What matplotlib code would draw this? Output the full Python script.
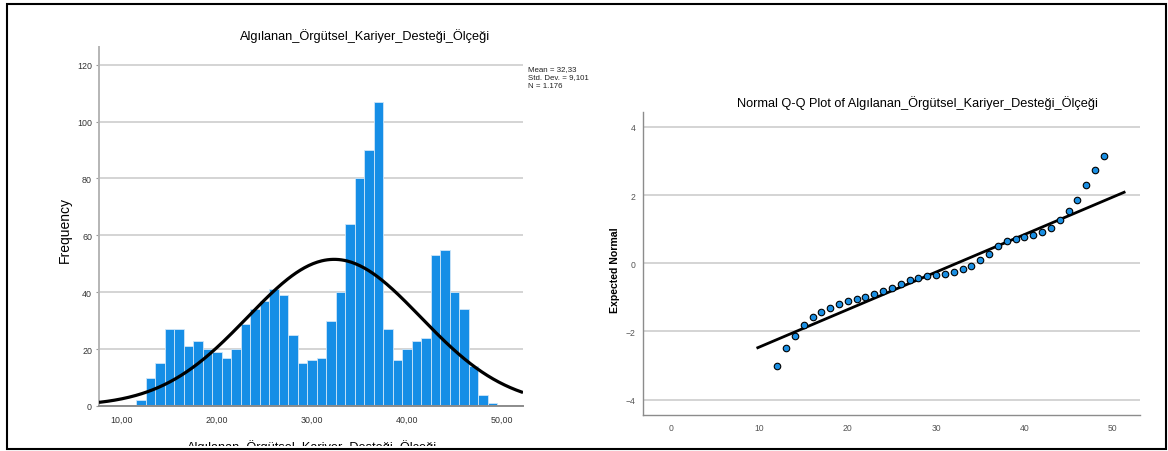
import numpy as np
import matplotlib
matplotlib.use("Agg")
import matplotlib.pyplot as plt
from matplotlib.patches import Rectangle
from matplotlib.transforms import Bbox, TransformedBbox

plt.rcParams['font.family'] = ['Liberation Sans', 'DejaVu Sans']

var_name = "Algılanan_Örgütsel_Kariyer_Desteği_Ölçeği"

# histogram: one bin per score value
scores = [12, 13, 14, 15, 16, 17, 18, 19, 20, 21, 22, 23, 24, 25, 26, 27, 28, 29, 30,
          31, 32, 33, 34, 35, 36, 37, 38, 39, 40, 41, 42, 43, 44, 45, 46, 47, 48, 49]
freqs = [2, 10, 15, 27, 27, 21, 23, 20, 19, 17, 20, 29, 34, 37, 41, 39, 25, 15, 16,
         17, 30, 40, 64, 80, 90, 107, 27, 16, 20, 23, 24, 53, 55, 40, 34, 14, 4, 1]
mean, std_dev, n_total = 32.33, 9.101, 1176

hist_yticks = [0, 20, 40, 60, 80, 100, 120]
hist_xticks = [10, 20, 30, 40, 50]
hist_xticklabels = ["10,00", "20,00", "30,00", "40,00", "50,00"]
stats_text = "Mean = 32,33\nStd. Dev. = 9,101\nN = 1.176"

# Q-Q plot: expected normal value for each observed score
expected_normal = [-3.02, -2.49, -2.12, -1.81, -1.57, -1.42, -1.30, -1.20, -1.12, -1.05,
                   -0.98, -0.90, -0.81, -0.71, -0.60, -0.50, -0.43, -0.38, -0.35, -0.31,
                   -0.26, -0.18, -0.07, 0.09, 0.27, 0.50, 0.66, 0.72, 0.77, 0.84,
                   0.91, 1.04, 1.27, 1.54, 1.87, 2.30, 2.75, 3.14]
qq_line_x = [9.8, 51.3]
qq_xticks = [0, 10, 20, 30, 40, 50]
qq_yticks = [-4, -2, 0, 2, 4]

bar_color = "#168ee6"
grid_color = "#c9c9c9"
W, H = 1168, 452


def fig_rect(left, top, right, bottom):
    return [left / W, 1 - bottom / H, (right - left) / W, (bottom - top) / H]


fig = plt.figure(figsize=(W / 100, H / 100), dpi=100)

# ---- histogram ----
ax1 = fig.add_axes(fig_rect(99, 48, 523, 407))
ax1.bar(scores, freqs, width=1.0, color=bar_color, edgecolor="#cfe6f8", linewidth=0.6, zorder=2)
xs = np.linspace(7.58, 52.21, 300)
curve = n_total / (std_dev * np.sqrt(2 * np.pi)) * np.exp(-0.5 * ((xs - mean) / std_dev) ** 2)
ax1.plot(xs, curve, color="black", lw=2.3, zorder=3, solid_capstyle="butt")
ax1.set_xlim(7.58, 52.21)
ax1.set_ylim(0, 126.2)
ax1.set_yticks(hist_yticks)
ax1.set_xticks(hist_xticks)
ax1.set_xticklabels(hist_xticklabels)
ax1.yaxis.grid(True, color=grid_color, lw=1.1, zorder=0)
ax1.set_axisbelow(True)
ax1.tick_params(axis="y", length=2, color="#999999", pad=3, labelsize=6.4, labelcolor="#333333")
ax1.tick_params(axis="x", length=0, pad=6, labelsize=6.4, labelcolor="#333333")
for side in ["top", "right"]:
    ax1.spines[side].set_visible(False)
ax1.spines["left"].set_color("#b5b5b5")
ax1.spines["left"].set_linewidth(1.4)
ax1.spines["bottom"].set_color("#8c8c8c")
ax1.spines["bottom"].set_linewidth(1.4)

fig.text(365 / W, 1 - 36 / H, var_name, ha="center", va="center", fontsize=9.2)
fig.text(528 / W, 1 - 66 / H, stats_text, ha="left", va="top", fontsize=5.7,
         linespacing=1.25, color="#222222")
fig.text(65 / W, 1 - 230 / H, "Frequency", rotation=90, ha="center", va="center", fontsize=10)

# x label of the histogram is cut off by the frame
xl = fig.text(312 / W, 1 - 440 / H, var_name, ha="center", va="top", fontsize=9.2)
xl.set_clip_box(TransformedBbox(Bbox.from_extents(0, 5.5 / H, 1, 1), fig.transFigure))
xl.set_clip_on(True)

# ---- Q-Q plot ----
ax2 = fig.add_axes(fig_rect(642.7, 113.3, 1140, 416))
ax2.scatter(scores, expected_normal, s=22, color="#1a8fe3", edgecolors="black",
            linewidths=0.8, zorder=3)
line_y = [(x - mean) / std_dev for x in qq_line_x]
ax2.plot(qq_line_x, line_y, color="black", lw=2.0, zorder=2)
ax2.set_xlim(-3.24, 53.1)
ax2.set_ylim(-4.45, 4.43)
ax2.set_xticks(qq_xticks)
ax2.set_yticks(qq_yticks)
ax2.yaxis.grid(True, color=grid_color, lw=1.1, zorder=0)
ax2.set_axisbelow(True)
ax2.tick_params(axis="both", length=0, labelsize=6.2, labelcolor="#555555")
ax2.tick_params(axis="x", pad=6)
ax2.tick_params(axis="y", pad=5)
for side in ["top", "right"]:
    ax2.spines[side].set_visible(False)
for side in ["left", "bottom"]:
    ax2.spines[side].set_color("#8c8c8c")
    ax2.spines[side].set_linewidth(1.0)

fig.text(917 / W, 1 - 103 / H, "Normal Q-Q Plot of " + var_name, ha="center", va="center",
         fontsize=9.2)
fig.text(615 / W, 1 - 270 / H, "Expected Normal", rotation=90, ha="center", va="center",
         fontsize=7.6, fontweight="bold")

# outer frame
fig.patches.append(Rectangle((7 / W, 1 - 450 / H), (1166 - 7) / W, (450 - 5) / H,
                             transform=fig.transFigure, fill=False, lw=1.5,
                             edgecolor="black"))

fig.savefig("out.png", dpi=100)
